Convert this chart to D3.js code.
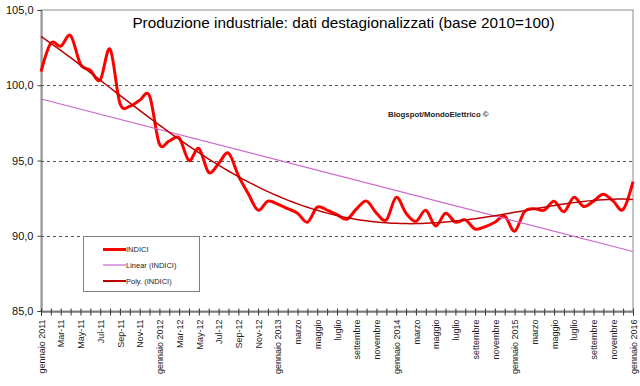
<!DOCTYPE html>
<html>
<head>
<meta charset="utf-8">
<script src="https://cdn.jsdelivr.net/npm/d3@7"></script>
<style>
body { margin: 0; background: #fff; }
text { font-family: Arial, 'Liberation Sans', sans-serif; }
</style>
</head>
<body>
<div id="chart"></div>
<script>
// tick labels, one every two months (Jan 2011 .. Jan 2016)
var monthLabels = ['gennaio 2011', 'Mar-11', 'May-11', 'Jul-11', 'Sep-11', 'Nov-11',
	'gennaio 2012', 'Mar-12', 'May-12', 'Jul-12', 'Sep-12', 'Nov-12',
	'gennaio 2013', 'marzo', 'maggio', 'luglio', 'settembre', 'novembre',
	'gennaio 2014', 'marzo', 'maggio', 'luglio', 'settembre', 'novembre',
	'gennaio 2015', 'marzo', 'maggio', 'luglio', 'settembre', 'novembre',
	'gennaio 2016'];

// INDICI, monthly
var indici = [
	100.9, 102.8, 102.6, 103.3, 101.4, 101.0, 100.35, 102.4, 98.8, 98.6, 99.0, 99.3, // 2011
	96.1, 96.3, 96.5, 95.0, 95.8, 94.2, 94.8, 95.5, 94.0, 92.8, 91.7, 92.3, // 2012
	92.1, 91.8, 91.5, 90.9, 91.9, 91.7, 91.4, 91.1, 91.8, 92.3, 91.5, 91.05, // 2013
	92.55, 91.5, 90.95, 91.7, 90.65, 91.5, 90.9, 91.05, 90.45, 90.6, 90.9, 91.3, // 2014
	90.3, 91.6, 91.8, 91.7, 92.3, 91.6, 92.55, 91.95, 92.3, 92.75, 92.3, 91.75, // 2015
	93.6 // 2016
];

var yTicks = [85, 90, 95, 100, 105];
var legendNames = ['INDICI', 'Linear (INDICI)', 'Poly. (INDICI)'];

var width = 640;
var height = 386;
var plot = { left: 41, right: 633, top: 10, bottom: 311 };

var red = '#ff0000';
var violet = '#cc66cc';
var darkRed = '#c00000';

/* least squares polynomial fit (trend lines, like the spreadsheet does) */
function polyFit(ys, order) {
	var n = order + 1;
	var N = ys.length;
	var A = [], b = [];
	for (var r = 0; r < n; r++) {
		A[r] = [];
		b[r] = 0;
		for (var c = 0; c < n; c++) A[r][c] = 0;
	}
	ys.forEach(function(y, i) {
		var t = i / (N - 1);
		for (var r = 0; r < n; r++) {
			b[r] += y * Math.pow(t, r);
			for (var c = 0; c < n; c++) A[r][c] += Math.pow(t, r + c);
		}
	});
	// gaussian elimination
	for (var k = 0; k < n; k++) {
		for (var r2 = k + 1; r2 < n; r2++) {
			var f = A[r2][k] / A[k][k];
			for (var c2 = k; c2 < n; c2++) A[r2][c2] -= f * A[k][c2];
			b[r2] -= f * b[k];
		}
	}
	var coef = [];
	for (var k2 = n - 1; k2 >= 0; k2--) {
		var s = b[k2];
		for (var c3 = k2 + 1; c3 < n; c3++) s -= A[k2][c3] * coef[c3];
		coef[k2] = s / A[k2][k2];
	}
	return function(i) {
		var t = i / (N - 1);
		return coef.reduce((acc, a, p) => acc + a * Math.pow(t, p), 0);
	};
}

var linFit = polyFit(indici, 1);
var polyTrend = polyFit(indici, 4);

/* Scale */
var xScale = d3.scaleLinear()
	.domain([0, indici.length - 1])
	.range([plot.left, plot.right]);

var yScale = d3.scaleLinear()
	.domain([85, 105])
	.range([plot.bottom, plot.top]);

/* SVG */
var svg = d3.select('#chart')
	.append('svg')
	.attr('width', width)
	.attr('height', height);

svg.append('rect')
	.attr('width', width)
	.attr('height', height)
	.attr('fill', '#fff');

// plot frame
svg.append('rect')
	.attr('x', plot.left)
	.attr('y', plot.top)
	.attr('width', plot.right - plot.left)
	.attr('height', plot.bottom - plot.top)
	.attr('fill', 'none')
	.attr('stroke', '#8c8c8c')
	.attr('stroke-width', 1);

// dashed grid
svg.append('g')
	.selectAll('line')
	.data([90, 95, 100])
	.enter()
	.append('line')
	.attr('x1', plot.left)
	.attr('x2', plot.right)
	.attr('y1', d => Math.round(yScale(d)) + 0.5)
	.attr('y2', d => Math.round(yScale(d)) + 0.5)
	.attr('stroke', '#555')
	.attr('stroke-dasharray', '3,3');

/* Axes */
var yAxis = d3.axisLeft(yScale)
	.tickValues(yTicks)
	.tickSize(4)
	.tickPadding(4)
	.tickFormat(d => d3.format('.1f')(d).replace('.', ','));

var gy = svg.append('g')
	.attr('transform', `translate(${plot.left + 0.5}, 0)`)
	.call(yAxis);
gy.select('.domain').attr('stroke', '#666');
gy.selectAll('.tick line').attr('stroke', '#444');
gy.selectAll('text').attr('font-size', '11px').attr('fill', '#111').attr('font-family', 'Arial, Liberation Sans, sans-serif');

var xAxis = d3.axisBottom(xScale)
	.tickValues(d3.range(indici.length))
	.tickSize(4)
	.tickFormat(i => (i % 2 === 0 ? monthLabels[i / 2] : ''));

var gx = svg.append('g')
	.attr('transform', `translate(0, ${plot.bottom + 0.5})`)
	.call(xAxis);
gx.select('.domain').attr('stroke', '#333');
gx.selectAll('.tick line').attr('stroke', '#333');
gx.selectAll('text')
	.attr('transform', 'rotate(-90)')
	.attr('text-anchor', 'end')
	.attr('x', -8)
	.attr('y', 0)
	.attr('dy', '0.35em')
	.attr('font-size', '9px')
	.attr('fill', '#222')
	.attr('font-family', 'Arial, Liberation Sans, sans-serif');

// upper half of the crossing ticks
var gx2 = svg.append('g')
	.attr('transform', `translate(0, ${plot.bottom + 0.5})`)
	.call(d3.axisTop(xScale).tickValues(d3.range(indici.length)).tickSize(3).tickFormat(''));
gx2.select('.domain').remove();
gx2.selectAll('.tick line').attr('stroke', '#333');

/* Lines */
var line = d3.line()
	.x((d, i) => xScale(i))
	.y(d => yScale(d))
	.curve(d3.curveCardinal.tension(0));

svg.append('path')
	.datum(indici)
	.attr('d', line)
	.attr('fill', 'none')
	.attr('stroke', red)
	.attr('stroke-width', 3)
	.attr('stroke-linejoin', 'round');

var ends = [0, indici.length - 1];
svg.append('path')
	.datum(ends)
	.attr('d', d3.line().x(i => xScale(i)).y(i => yScale(linFit(i))))
	.attr('fill', 'none')
	.attr('stroke', violet)
	.attr('stroke-width', 1.2);

var steps = d3.range(0, indici.length - 1 + 0.01, 0.5);
svg.append('path')
	.datum(steps)
	.attr('d', d3.line().x(i => xScale(i)).y(i => yScale(polyTrend(i))))
	.attr('fill', 'none')
	.attr('stroke', darkRed)
	.attr('stroke-width', 1.5);

/* Title and note */
svg.append('text')
	.attr('x', 343.5)
	.attr('y', 27.5)
	.attr('text-anchor', 'middle')
	.attr('font-size', '15.3px')
	.attr('fill', '#000')
	.text('Produzione industriale: dati destagionalizzati (base 2010=100)');

svg.append('text')
	.attr('x', 388)
	.attr('y', 117)
	.attr('font-size', '7.8px')
	.attr('font-weight', 'bold')
	.attr('fill', '#222')
	.text('Blogspot/MondoElettrico \u00a9');

/* Legend */
var legend = svg.append('g').attr('class', 'legend');
legend.append('rect')
	.attr('x', 83.5)
	.attr('y', 236.5)
	.attr('width', 116)
	.attr('height', 55)
	.attr('fill', '#fff')
	.attr('stroke', '#808080');

var legendStyle = [
	{ color: red, w: 3 },
	{ color: violet, w: 1.2 },
	{ color: darkRed, w: 2 }
];
var legendY = [249.5, 265, 281];

legendNames.forEach(function(name, k) {
	legend.append('line')
		.attr('x1', 103)
		.attr('x2', 126)
		.attr('y1', legendY[k])
		.attr('y2', legendY[k])
		.attr('stroke', legendStyle[k].color)
		.attr('stroke-width', legendStyle[k].w);
	legend.append('text')
		.attr('x', 126)
		.attr('y', legendY[k])
		.attr('dy', '0.35em')
		.attr('font-size', '7.5px')
		.attr('fill', '#222')
		.text(name);
});
</script>
</body>
</html>
